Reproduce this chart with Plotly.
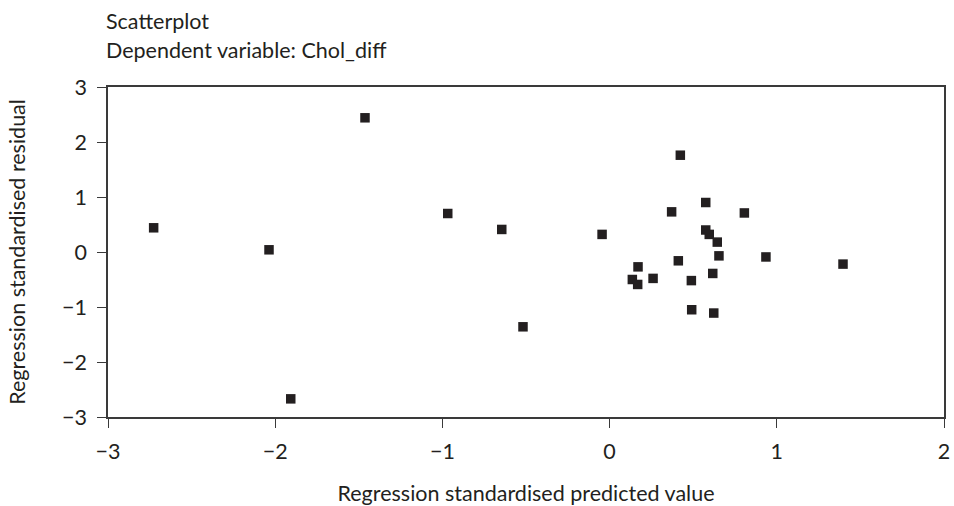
import plotly.graph_objects as go

predicted = [-2.727, -2.037, -1.463, -0.968, -1.907, -0.645, -0.045, -0.518,
             0.423, 0.575, 0.371, 0.806, 0.575, 0.596, 0.644, 0.654, 0.935,
             1.396, 0.411, 0.170, 0.136, 0.168, 0.260, 0.489, 0.617, 0.491,
             0.623]
residual = [0.44, 0.04, 2.44, 0.70, -2.67, 0.41, 0.32, -1.36,
            1.76, 0.90, 0.73, 0.71, 0.40, 0.32, 0.18, -0.07, -0.09,
            -0.22, -0.16, -0.27, -0.50, -0.59, -0.48, -0.52, -0.39, -1.05,
            -1.11]

title_lines = ["Scatterplot", "Dependent variable: Chol_diff"]
x_title = "Regression standardised predicted value"
y_title = "Regression standardised residual"
ticks = [-3, -2, -1, 0, 1, 2]
yticks = [-3, -2, -1, 0, 1, 2, 3]

FONT = "Lato, Open Sans, sans-serif"
INK = "#231f20"
FS = 21.5

fig = go.Figure(go.Scatter(
    x=predicted, y=residual, mode="markers",
    marker=dict(symbol="square", size=9.5, color=INK, line=dict(width=0)),
    showlegend=False, hoverinfo="x+y"))

axis_common = dict(showgrid=False, zeroline=False, showline=True, automargin=False,
                   linecolor="#3a3a3a", linewidth=1.5, mirror=True,
                   ticks="outside", ticklen=9, tickwidth=1.3, tickcolor="#3a3a3a",
                   tickfont=dict(family=FONT, size=FS, color=INK))

fig.update_xaxes(range=[-3, 2], tickvals=ticks, **axis_common, ticklabelstandoff=5,
                 title=dict(text=x_title, font=dict(family=FONT, size=FS, color=INK), standoff=24))
fig.update_yaxes(range=[-3, 3], tickvals=yticks, **axis_common, ticklabelstandoff=6,
                 title=dict(text=y_title, font=dict(family=FONT, size=FS, color=INK), standoff=30))

fig.add_annotation(text=title_lines[0], xref="paper", yref="paper", x=0, y=1.2,
                   xanchor="left", yanchor="middle", showarrow=False, xshift=-4,
                   font=dict(family=FONT, size=FS, color=INK))
fig.add_annotation(text=title_lines[1], xref="paper", yref="paper", x=0, y=1.112,
                   xanchor="left", yanchor="middle", showarrow=False, xshift=-4,
                   font=dict(family=FONT, size=FS, color=INK))

fig.update_layout(width=954, height=506, margin=dict(l=108, r=10, t=87, b=89),
                  plot_bgcolor="white", paper_bgcolor="white")

fig.write_html("out.html")
